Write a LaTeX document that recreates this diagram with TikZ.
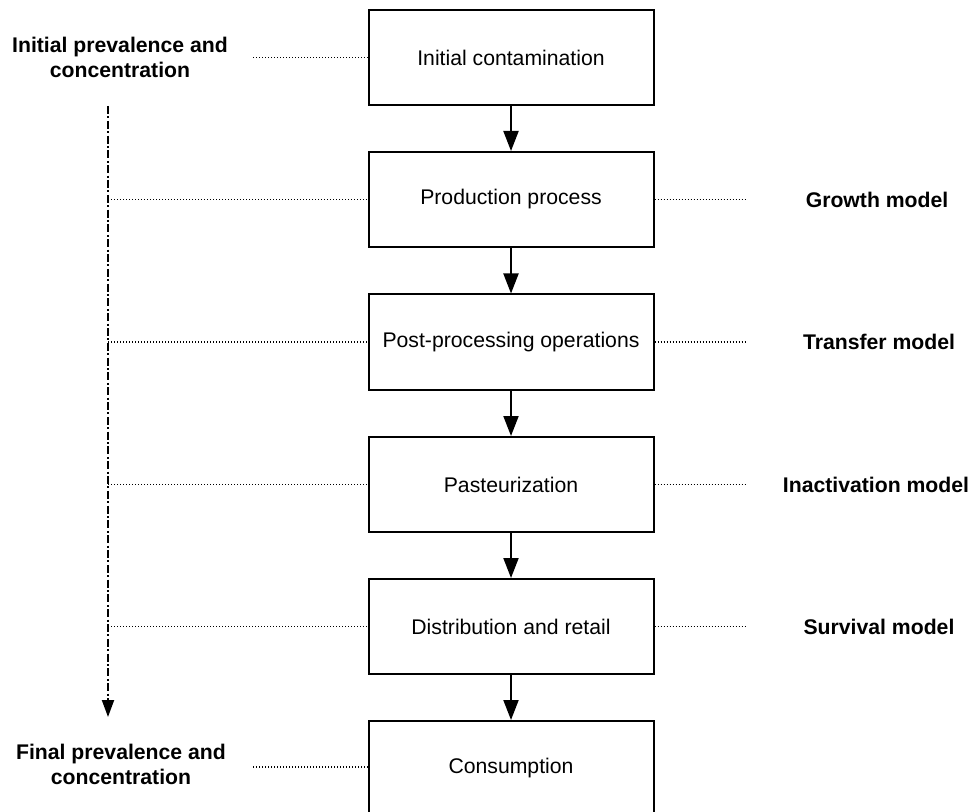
\documentclass[tikz,border=0pt]{standalone}
\usepackage{fontspec}
\setmainfont{Liberation Sans}
\usetikzlibrary{arrows.meta}
\begin{document}
\begin{tikzpicture}[x=0.5pt,y=-0.5pt,
  stage/.style={draw, line width=1pt, minimum width=142.5pt, minimum height=47.5pt,
    inner sep=0pt, font=\fontsize{10.6}{13}\selectfont},
  model/.style={align=center, font=\fontsize{10.6}{12.5}\selectfont\bfseries},
  guide/.style={line width=0.7pt, dash pattern=on 0.6pt off 0.9pt},
  flow/.style={-{Triangle[width=7.5pt,length=10pt]}, line width=1pt},
  trend/.style={-{Triangle[width=6pt,length=8.5pt]}, line width=1pt,
    dash pattern=on 4pt off 1.2pt on 1pt off 1.2pt}]
\useasboundingbox (0,0) rectangle (973,812);
% stages of the chain
\node[stage] (init) at (511,57.5) {Initial contamination};
\node[stage] (prod) at (511,199.5) {Production process};
\node[stage] (post) at (511,342) {Post-processing operations};
\node[stage] (past) at (511,484.5) {Pasteurization};
\node[stage] (dist) at (511,626.5) {Distribution and retail};
\node[stage] (cons) at (511,768.5) {Consumption};
\draw[flow] (init) -- (prod);
\draw[flow] (prod) -- (post);
\draw[flow] (post) -- (past);
\draw[flow] (past) -- (dist);
\draw[flow] (dist) -- (cons);
% prevalence and concentration
\node[model] (start) at (120,57.5) {Initial prevalence and\\concentration};
\node[model] (final) at (121,764) {Final prevalence and\\concentration};
\coordinate (startend) at (253,57.5);
\coordinate (finalend) at (253,767);
\draw[guide] (startend) -- (init.west);
\draw[guide] (finalend) -- (cons.west |- finalend);
\coordinate (top) at (108,106);
\coordinate (bot) at (108,717);
\draw[trend] (top) -- (bot);
\draw[guide] (top |- prod.west) -- (prod.west);
\draw[guide] (top |- post.west) -- (post.west);
\draw[guide] (top |- past.west) -- (past.west);
\draw[guide] (top |- dist.west) -- (dist.west);
% models
\node[model] (growth) at (877,199.5) {Growth model};
\node[model] (transfer) at (879,342) {Transfer model};
\node[model] (inact) at (876,484.5) {Inactivation model};
\node[model] (surv) at (879,626.5) {Survival model};
\draw[guide] (prod.east) -- ++(92,0);
\draw[guide] (post.east) -- ++(92,0);
\draw[guide] (past.east) -- ++(92,0);
\draw[guide] (dist.east) -- ++(92,0);
\end{tikzpicture}
\end{document}
